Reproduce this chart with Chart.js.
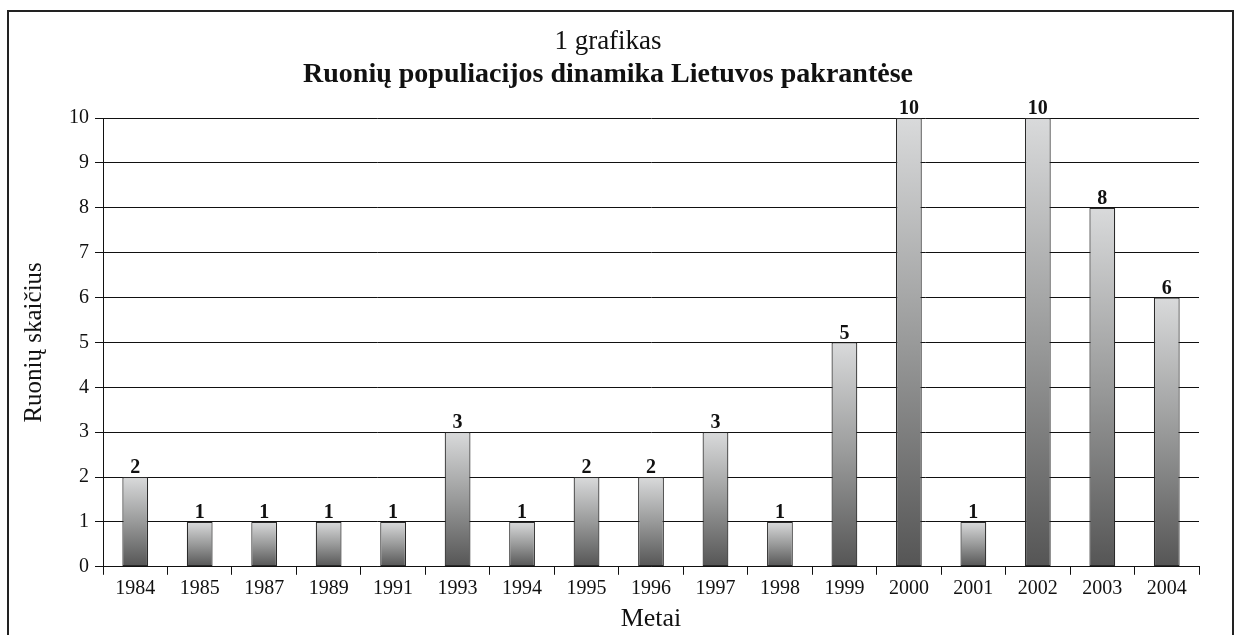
<!DOCTYPE html>
<html>
<head>
<meta charset="utf-8">
<script src="https://cdn.jsdelivr.net/npm/chart.js@4"></script>
<style>
  body { margin: 0; background: #fff; }
  #frame {
    position: absolute; left: 7px; top: 10px; width: 1227px; height: 700px;
    border: 2px solid #222; box-sizing: border-box;
  }
  #wrap { position: absolute; left: 0; top: 0; width: 1244px; height: 635px; }
</style>
</head>
<body>
<div id="frame"></div>
<div id="wrap"><canvas id="seals"></canvas></div>
<script>
const years = ['1984', '1985', '1987', '1989', '1991', '1993', '1994', '1995', '1996',
               '1997', '1998', '1999', '2000', '2001', '2002', '2003', '2004'];
const sealCounts = [2, 1, 1, 1, 1, 3, 1, 2, 2, 3, 1, 5, 10, 1, 10, 8, 6];
const yTicks = [0, 1, 2, 3, 4, 5, 6, 7, 8, 9, 10];

const serif = "'Liberation Serif', 'DejaVu Serif', serif";

// number above every bar
const barLabels = {
    id: 'barLabels',
    afterDatasetsDraw(chart) {
        const ctx = chart.ctx;
        const meta = chart.getDatasetMeta(0);
        ctx.save();
        ctx.font = 'bold 20px ' + serif;
        ctx.fillStyle = '#111';
        ctx.textAlign = 'center';
        ctx.textBaseline = 'bottom';
        meta.data.forEach(function(bar, i) {
            ctx.fillText(sealCounts[i], bar.x, bar.y + 1);
        });
        ctx.restore();
    }
};

new Chart(document.getElementById('seals').getContext('2d'), {
    type: 'bar',
    data: {
        labels: years,
        datasets: [{
            data: sealCounts,
            backgroundColor: function(context) {
                const chart = context.chart;
                if (!chart.chartArea) return '#999';
                const y = chart.scales.y;
                const top = y.getPixelForValue(context.raw);
                const bottom = y.getPixelForValue(0);
                const g = chart.ctx.createLinearGradient(0, top, 0, bottom);
                g.addColorStop(0, '#d9dadb');
                g.addColorStop(0.5, '#999a9a');
                g.addColorStop(1, '#555555');
                return g;
            },
            borderColor: '#2a2a2a',
            borderWidth: 1.2,
            borderSkipped: false,
            barPercentage: 0.8,
            categoryPercentage: 0.5
        }]
    },
    options: {
        responsive: true,
        maintainAspectRatio: false,
        animation: false,
        layout: {
            padding: { top: 26, left: 17, right: 45, bottom: 0 }
        },
        plugins: {
            legend: { display: false },
            tooltip: { enabled: false },
            title: {
                display: true,
                text: '1 grafikas',
                color: '#111',
                font: { family: serif, size: 27, weight: 'normal' },
                padding: { top: 0, bottom: 0 }
            },
            subtitle: {
                display: true,
                text: 'Ruonių populiacijos dinamika Lietuvos pakrantėse',
                color: '#111',
                font: { family: serif, size: 28, weight: 'bold' },
                padding: { top: 0, bottom: 26 }
            }
        },
        scales: {
            y: {
                min: 0,
                max: 10,
                afterBuildTicks: function(axis) {
                    axis.ticks = yTicks.map(v => ({ value: v }));
                },
                ticks: {
                    color: '#111',
                    padding: 6,
                    font: { family: serif, size: 20 }
                },
                grid: {
                    color: '#111',
                    lineWidth: 1,
                    drawTicks: true,
                    tickLength: 8
                },
                border: { color: '#111', width: 1 },
                title: {
                    display: true,
                    text: 'Ruonių skaičius',
                    color: '#111',
                    font: { family: serif, size: 25 },
                    padding: { top: 2, bottom: 14 }
                }
            },
            x: {
                offset: true,
                ticks: {
                    color: '#111',
                    padding: 2,
                    maxRotation: 0,
                    font: { family: serif, size: 20 }
                },
                grid: {
                    offset: true,
                    drawOnChartArea: false,
                    drawTicks: true,
                    tickLength: 8,
                    color: '#111'
                },
                border: { color: '#111', width: 1 },
                title: {
                    display: true,
                    text: 'Metai',
                    color: '#111',
                    font: { family: serif, size: 26 },
                    padding: { top: 1, bottom: 0 }
                }
            }
        }
    },
    plugins: [barLabels]
});
</script>
</body>
</html>
